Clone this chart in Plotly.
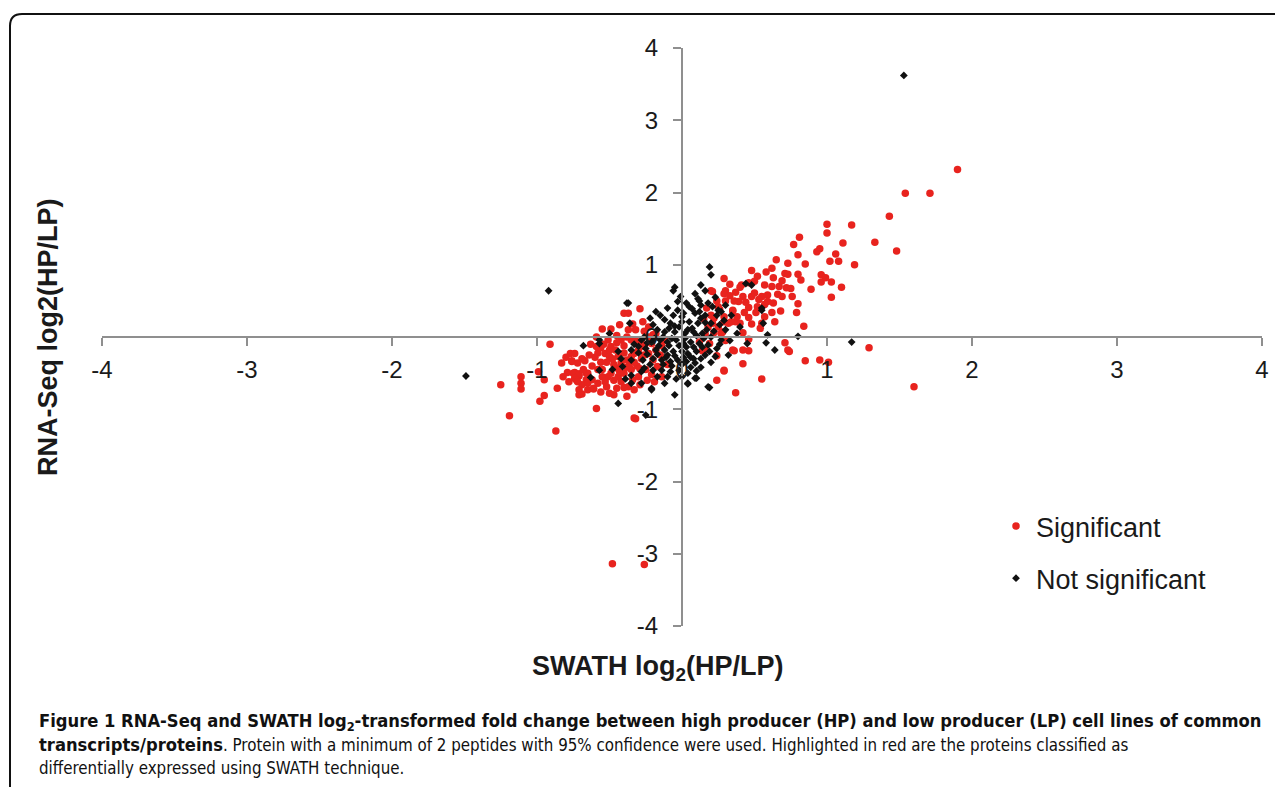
import plotly.graph_objects as go

# ---------------- data ----------------
sig_pts = [
    (1.90, 2.32), (1.54, 1.99), (1.71, 1.99), (1.43, 1.67), (1.48, 1.19), (1.33, 1.31),
    (1.00, 1.56), (1.00, 1.44), (1.17, 1.55), (1.11, 1.30), (0.95, 1.22), (0.93, 1.18),
    (1.06, 1.15), (1.02, 1.05), (1.08, 1.05), (1.19, 1.00), (0.96, 0.86), (0.96, 0.76),
    (0.99, 0.82), (1.03, 0.76), (1.10, 0.69), (1.03, 0.55), (1.29, -0.15), (1.60, -0.69),
    (0.95, -0.32), (1.01, -0.35),
    (0.81, 1.38), (0.77, 1.28), (0.80, 1.14), (0.65, 1.07), (0.73, 1.02), (0.85, 1.01),
    (0.62, 0.95), (0.58, 0.90), (0.48, 0.92), (0.52, 0.84), (0.71, 0.88), (0.73, 0.87),
    (0.80, 0.87), (0.82, 0.79), (0.29, 0.81), (0.41, 0.72), (0.46, 0.75), (0.50, 0.77),
    (0.57, 0.72), (0.62, 0.70), (0.67, 0.70), (0.72, 0.68), (0.75, 0.67), (0.89, 0.66),
    (0.40, 0.69), (0.30, 0.64), (0.20, 0.64), (0.33, 0.57), (0.42, 0.56), (0.48, 0.56),
    (0.55, 0.56), (0.59, 0.58), (0.66, 0.59), (0.76, 0.56), (0.39, 0.49), (0.46, 0.41),
    (0.52, 0.42), (0.57, 0.45), (0.59, 0.49), (0.80, 0.46), (0.68, 0.36), (0.62, 0.34),
    (0.51, 0.34), (0.43, 0.34), (0.35, 0.36), (0.26, 0.38), (0.20, 0.30), (0.79, 0.34),
    (0.84, 0.15), (0.55, 0.19), (0.48, 0.18), (0.37, 0.21), (0.34, 0.21), (0.40, 0.19),
    (0.54, 0.12), (0.42, 0.06), (0.27, 0.05), (0.22, 0.06), (0.25, 0.14), (0.21, 0.19),
    (0.22, 0.26), (0.46, -0.03), (0.71, -0.08), (0.74, -0.20), (0.46, -0.19), (0.36, -0.19),
    (0.14, -0.19), (0.24, -0.26), (0.42, -0.37), (0.85, -0.33), (0.29, -0.47), (0.55, -0.58),
    (0.24, -0.60), (0.37, -0.77), (0.21, 0.63), (0.25, 0.42), (0.18, 0.14), (0.29, 0.21),
    (0.16, -0.18), (0.29, -0.46), (0.29, 0.60), (0.35, 0.37), (0.29, 0.28), (0.32, 0.19),
    (0.28, 0.07), (0.42, -0.18), (0.35, -0.18), (0.73, -0.18), (0.36, 0.50), (0.30, 0.50),
    (0.15, 0.25), (0.17, 0.40), (0.24, 0.50), (0.33, 0.73), (0.37, 0.62), (0.44, 0.48),
    (0.50, 0.61), (0.53, 0.52), (0.63, 0.47), (0.69, 0.56), (0.63, 0.82), (0.69, 0.78),
    (0.38, 0.28), (0.46, 0.27), (0.57, 0.28), (0.64, 0.21), (0.16, 0.04), (0.12, -0.07),
    (0.19, -0.09), (0.30, -0.05),
    (-1.25, -0.66), (-1.19, -1.09), (-1.11, -0.55), (-1.11, -0.64), (-1.11, -0.72),
    (-0.99, -0.48), (-0.95, -0.59), (-0.95, -0.81), (-0.98, -0.89), (-0.87, -1.30),
    (-0.86, -0.71), (-0.91, -0.10), (-0.77, -0.23), (-0.74, -0.23), (-0.76, -0.33),
    (-0.83, -0.36), (-0.67, -0.33), (-0.69, -0.30), (-0.59, -0.99), (-0.74, -0.49),
    (-0.71, -0.54), (-0.73, -0.59), (-0.69, -0.66), (-0.71, -0.73), (-0.71, -0.80),
    (-0.65, -0.50), (-0.66, -0.59), (-0.62, -0.59), (-0.61, -0.72), (-0.65, -0.73),
    (-0.58, -0.22), (-0.63, -0.10), (-0.59, 0.00), (-0.49, 0.11), (-0.55, 0.11),
    (-0.40, 0.33), (-0.37, 0.33), (-0.29, 0.39), (-0.33, -1.12), (-0.48, -3.14),
    (-0.26, -3.15), (-0.32, -1.13),
    (-0.76, -0.34), (-0.72, -0.36), (-0.79, -0.49), (-0.75, -0.50), (-0.71, -0.51),
    (-0.74, -0.57), (-0.72, -0.62), (-0.69, -0.79), (-0.61, -0.71), (-0.66, -0.50),
    (-0.59, -0.13), (-0.51, -0.04), (-0.49, -0.13), (-0.53, -0.23), (-0.50, -0.27),
    (-0.46, -0.18), (-0.44, -0.27), (-0.42, -0.36), (-0.45, -0.43), (-0.49, -0.50),
    (-0.51, -0.55), (-0.44, -0.55), (-0.40, -0.50), (-0.38, -0.32), (-0.35, -0.27),
    (-0.33, -0.23), (-0.30, -0.18), (-0.35, -0.04), (-0.32, 0.10), (-0.37, 0.10),
    (-0.42, -0.04), (-0.28, -0.09), (-0.26, -0.13), (-0.23, -0.23), (-0.20, -0.32),
    (-0.18, -0.18), (-0.21, -0.09), (-0.23, 0.00), (-0.17, -0.41), (-0.34, -0.59),
    (-0.37, -0.69), (-0.33, -0.73), (-0.45, -0.71), (-0.52, -0.69), (-0.58, -0.64),
    (-0.65, -0.64), (-0.47, -0.38), (-0.40, -0.22), (-0.28, -0.30), (-0.25, -0.45),
    (-0.30, -0.55), (-0.42, -0.62), (-0.55, -0.45), (-0.56, -0.35), (-0.35, -0.45),
    (-0.15, -0.25), (-0.12, -0.05), (-0.18, 0.05), (-0.26, 0.08), (-0.45, 0.02),
    (-0.53, -0.62), (-0.47, -0.80), (-0.38, -0.82), (-0.24, -0.60), (-0.14, -0.55),
    (-0.60, -0.28), (-0.27, 0.21), (-0.23, 0.14), (-0.54, -0.10), (-0.40, -0.12),
    (-0.31, -0.40), (-0.21, -0.52), (-0.48, -0.30), (-0.36, -0.36),
    (-0.55, -0.55), (-0.58, -0.45), (-0.62, -0.40), (-0.68, -0.45), (-0.64, -0.25),
    (-0.52, -0.35), (-0.47, -0.60), (-0.43, -0.48), (-0.38, -0.42), (-0.33, -0.35),
    (-0.29, -0.44), (-0.26, -0.25), (-0.32, -0.05), (-0.38, 0.00), (-0.45, -0.08),
    (-0.50, -0.18), (-0.56, -0.15), (-0.40, -0.70), (-0.29, -0.66), (-0.50, -0.78),
    (-0.56, -0.76), (-0.78, -0.62), (-0.82, -0.55), (-0.80, -0.28), (-0.20, 0.03),
    (-0.14, -0.12), (-0.10, -0.38), (-0.19, -0.62), (-0.43, 0.17), (-0.34, 0.18),
]

ns_pts = [
    (1.53, 3.62), (-0.92, 0.64), (-1.49, -0.54), (1.17, -0.07), (-0.44, -0.92),
    (-0.25, -1.08), (-0.05, -0.80), (0.80, 0.01), (0.59, 0.03), (0.64, -0.18),
    (0.58, -0.08), (0.45, -0.09), (0.55, 0.40), (0.56, 0.19), (0.40, 0.14), (0.48, 0.72),
    (0.44, 0.74), (0.55, 0.37), (0.27, 0.35), (0.29, 0.23), (0.19, -0.70), (0.04, -0.64),
    (0.10, -0.57), (-0.57, -0.09), (-0.68, -0.12), (-0.57, -0.46), (-0.63, -0.56),
    (-0.36, 0.19), (-0.38, 0.47), (-0.35, -0.64), (-0.21, -0.73), (-0.57, -0.04),
    (0.19, 0.97), (0.20, 0.86), (0.13, 0.72), (-0.05, 0.69), (-0.06, 0.64), (0.09, 0.60),
    (0.11, 0.53), (0.03, 0.47), (-0.03, 0.49), (-0.37, 0.47), (0.05, 0.42), (0.13, 0.44),
    (0.18, 0.47), (0.21, 0.42), (0.25, 0.37), (-0.03, 0.37), (-0.06, 0.30), (0.01, 0.33),
    (0.09, 0.33), (0.16, 0.30), (-0.12, 0.24), (-0.08, 0.19), (0.00, 0.21), (0.05, 0.21),
    (0.11, 0.19), (0.20, 0.19), (0.26, 0.17), (-0.20, 0.17), (-0.17, 0.10), (-0.12, 0.07),
    (-0.05, 0.07), (0.02, 0.05), (0.08, 0.07), (0.14, 0.05), (0.20, 0.00), (0.27, -0.04),
    (-0.26, 0.00), (-0.21, -0.07), (-0.15, -0.04), (-0.10, -0.07), (-0.04, -0.04),
    (0.01, -0.09), (0.06, -0.07), (0.12, -0.09), (0.18, -0.11), (0.24, -0.16),
    (-0.30, -0.13), (-0.25, -0.16), (-0.18, -0.18), (-0.12, -0.18), (-0.06, -0.20),
    (0.00, -0.20), (0.04, -0.23), (0.10, -0.20), (0.16, -0.25), (0.23, -0.27),
    (-0.42, -0.30), (-0.35, -0.32), (-0.27, -0.32), (-0.20, -0.30), (-0.14, -0.32),
    (-0.08, -0.34), (-0.03, -0.32), (0.03, -0.34), (0.09, -0.36), (-0.26, -0.43),
    (-0.20, -0.46), (-0.14, -0.46), (-0.08, -0.48), (-0.02, -0.46), (0.04, -0.50),
    (0.09, -0.57), (0.04, -0.65), (0.18, -0.69), (-0.35, -0.53), (-0.41, -0.41),
    (-0.21, -0.71), (-0.09, 0.12), (-0.02, 0.14), (0.07, 0.12), (0.13, 0.26),
    (-0.15, 0.30), (-0.09, -0.12), (0.03, -0.14), (0.15, -0.02), (-0.16, -0.12),
    (0.30, 0.10), (0.33, -0.05), (0.07, 0.39), (-0.01, 0.56), (-0.10, -0.25),
    (0.06, -0.28), (-0.04, -0.58), (0.13, -0.42), (0.20, -0.35), (-0.30, -0.22),
    (-0.22, 0.26), (-0.18, 0.35), (-0.10, 0.40), (-0.05, 0.15), (0.00, 0.28),
    (0.04, 0.10), (0.10, 0.02), (0.12, 0.35), (0.17, 0.10), (0.22, 0.08), (0.24, 0.30),
    (0.02, -0.02), (-0.02, -0.12), (-0.07, -0.02), (-0.13, 0.00), (-0.19, -0.02),
    (-0.24, -0.08), (-0.28, -0.04), (-0.33, -0.10), (-0.35, -0.18), (-0.24, -0.24),
    (-0.17, -0.24), (-0.11, -0.28), (-0.05, -0.26), (0.01, -0.28), (0.08, -0.30),
    (0.13, -0.30), (0.19, -0.20), (0.14, -0.14), (0.08, -0.14), (-0.13, -0.38),
    (-0.07, -0.40), (0.00, -0.38), (0.06, -0.42), (-0.22, -0.38), (-0.28, -0.48),
    (-0.17, -0.55), (-0.10, -0.55), (0.00, -0.55), (-0.12, -0.64), (0.10, -0.47),
    (0.16, 0.20), (0.12, 0.50), (0.16, 0.64), (0.23, 0.55), (0.30, 0.44), (0.34, 0.30),
    (0.38, 0.05), (0.26, -0.10), (0.32, -0.25), (-0.44, -0.20), (-0.48, -0.45),
    (-0.39, -0.58), (-0.28, -0.64), (-0.50, 0.05),
]

sig_x = [p[0] for p in sig_pts]
sig_y = [p[1] for p in sig_pts]
ns_x = [p[0] for p in ns_pts]
ns_y = [p[1] for p in ns_pts]

ticks = [-4, -3, -2, -1, 0, 1, 2, 3, 4]
series_names = ["Significant", "Not significant"]

# ---------------- figure ----------------
W, H = 1283, 787
OFF = 8                      # page body margin of the html page
L, R, T, B = 102 - OFF, 1262 - OFF, 48 - OFF, 626 - OFF   # plot area in figure pixels


def px(xp):
    """screen pixel x -> paper fraction"""
    return (xp - OFF - L) / (R - L)


def py(yp):
    """screen pixel y -> paper fraction"""
    return (B - (yp - OFF)) / (B - T)


FONT = "Liberation Sans, Arial, sans-serif"

fig = go.Figure()
fig.add_trace(go.Scatter(
    x=sig_x, y=sig_y, mode="markers", name=series_names[0], legendgroup="a",
    marker=dict(color="#e8231e", size=7.5, symbol="circle", line=dict(width=0)),
))
fig.add_trace(go.Scatter(
    x=ns_x, y=ns_y, mode="markers", name=series_names[1], legendgroup="b",
    marker=dict(color="#111111", size=6, symbol="diamond", line=dict(width=0)),
))

axis_common = dict(
    range=[-4, 4], tickvals=ticks, ticktext=[str(t) for t in ticks],
    showgrid=False, zeroline=False, showline=True,
    linecolor="#8f8f8f", linewidth=2, ticks="outside", ticklen=8,
    tickwidth=2, tickcolor="#8f8f8f",
    tickfont=dict(family=FONT, size=24, color="#1a1a1a"),
    anchor="free", position=0.5,
)

fig.update_layout(
    width=W, height=H,
    margin=dict(l=L, r=W - R, t=T, b=H - B),
    paper_bgcolor="white", plot_bgcolor="rgba(0,0,0,0)",
    xaxis=dict(**axis_common, ticklabelstandoff=3),
    yaxis=dict(**axis_common, ticklabelstandoff=10),
    showlegend=True,
    legend=dict(
        x=px(996), y=py(502), xanchor="left", yanchor="top",
        font=dict(family=FONT, size=27, color="#1a1a1a"),
        bgcolor="rgba(0,0,0,0)", tracegroupgap=14, traceorder="grouped",
        itemsizing="trace",
    ),
)

# axis titles
fig.add_annotation(
    x=px(658), y=py(668), xref="paper", yref="paper", showarrow=False,
    xanchor="center", yanchor="middle",
    text="<b>SWATH log<sub>2</sub>(HP/LP)</b>",
    font=dict(family=FONT, size=27, color="#1a1a1a"),
)
fig.add_annotation(
    x=px(48), y=py(337), xref="paper", yref="paper", showarrow=False, textangle=-90,
    xanchor="center", yanchor="middle",
    text="<b>RNA-Seq log2(HP/LP)</b>",
    font=dict(family=FONT, size=27, color="#1a1a1a"),
)

# caption
caption = (
    "<b>Figure 1 RNA-Seq and SWATH log<sub>2</sub>-transformed fold change between high producer (HP) "
    "and low producer (LP) cell lines of common</b><br>"
    "<b>transcripts/proteins</b><span style='font-size:16.8px'>. Protein with a minimum of 2 peptides with 95% "
    "confidence were used. Highlighted in red are the proteins classified as</span><br>"
    "<span style='font-size:16.8px'>differentially expressed using SWATH technique.</span>"
)
fig.add_annotation(
    x=px(37), y=py(708), xref="paper", yref="paper", showarrow=False,
    xanchor="left", yanchor="top", align="left", text=caption,
    font=dict(family="DejaVu Sans Condensed, DejaVu Sans, sans-serif", size=18.2, color="#111111"),
)

# rounded frame (top-left corner visible)
r = 12
path = (
    f"M {px(10)} {py(820)} L {px(10)} {py(14 + r)} "
    f"Q {px(10)} {py(14)} {px(10 + r)} {py(14)} L {px(1320)} {py(14)}"
)
fig.add_shape(type="path", path=path, xref="paper", yref="paper",
              line=dict(color="#111111", width=2))

fig.write_html("out.html")
